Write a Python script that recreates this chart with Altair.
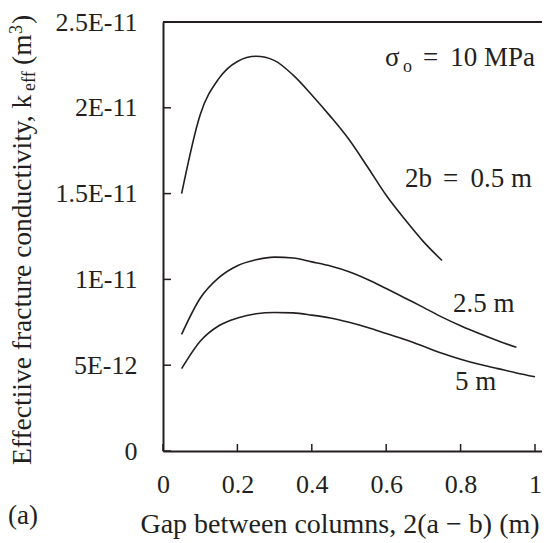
import altair as alt
import pandas as pd

# ---- data ----
gap_05 = [0.05, 0.10, 0.15, 0.20, 0.25, 0.30, 0.35, 0.40, 0.45, 0.50, 0.55, 0.60, 0.65, 0.70, 0.75]
k_05 = [1.50e-11, 1.96e-11, 2.17e-11, 2.27e-11, 2.30e-11, 2.275e-11, 2.19e-11, 2.075e-11,
        1.95e-11, 1.815e-11, 1.655e-11, 1.49e-11, 1.35e-11, 1.22e-11, 1.11e-11]

gap_25 = [0.05, 0.10, 0.15, 0.20, 0.25, 0.30, 0.35, 0.40, 0.45, 0.50, 0.55, 0.60, 0.65,
          0.70, 0.75, 0.80, 0.85, 0.90, 0.95]
k_25 = [6.8e-12, 8.9e-12, 1.01e-11, 1.08e-11, 1.115e-11, 1.13e-11, 1.125e-11, 1.102e-11,
        1.078e-11, 1.045e-11, 1.00e-11, 9.47e-12, 8.92e-12, 8.37e-12, 7.8e-12, 7.3e-12,
        6.85e-12, 6.43e-12, 6.04e-12]

gap_5 = [0.05, 0.10, 0.15, 0.20, 0.25, 0.30, 0.35, 0.40, 0.45, 0.50, 0.55, 0.60, 0.65,
         0.70, 0.75, 0.80, 0.85, 0.90, 0.95, 1.00]
k_5 = [4.8e-12, 6.4e-12, 7.3e-12, 7.75e-12, 8.0e-12, 8.07e-12, 8.05e-12, 7.92e-12,
       7.75e-12, 7.5e-12, 7.2e-12, 6.85e-12, 6.5e-12, 6.1e-12, 5.7e-12, 5.35e-12,
       5.05e-12, 4.8e-12, 4.55e-12, 4.33e-12]

series_names = ["0.5 m", "2.5 m", "5 m"]

x_ticks = [0, 0.2, 0.4, 0.6, 0.8, 1]
x_tick_labels = ["0", "0.2", "0.4", "0.6", "0.8", "1"]
y_ticks = [0, 5e-12, 1e-11, 1.5e-11, 2e-11, 2.5e-11]
y_tick_labels = ["0", "5E-12", "1E-11", "1.5E-11", "2E-11", "2.5E-11"]

# ---- build tables ----
rows = []
for name, xs, ys in zip(series_names, [gap_05, gap_25, gap_5], [k_05, k_25, k_5]):
    for xv, yv in zip(xs, ys):
        rows.append({"series": name, "gap": xv, "k": yv})
df = pd.DataFrame(rows)

W, H = 379, 429
FONT = "Liberation Serif"
INK = "#231f20"

xscale = alt.Scale(domain=[0, W / 372], nice=False, zero=False)
yscale = alt.Scale(domain=[0, 2.5e-11], nice=False)

ylabel_expr = " : ".join(
    [f"abs(datum.value - {v}) < 1e-13 ? '{l}'" for v, l in zip(y_ticks, y_tick_labels)]
) + " : ''"
xlabel_expr = " : ".join(
    [f"abs(datum.value - {v}) < 1e-6 ? '{l}'" for v, l in zip(x_ticks, x_tick_labels)]
) + " : ''"

lines = alt.Chart(df).mark_line(color=INK, strokeWidth=1.6, interpolate="monotone").encode(
    x=alt.X("gap:Q", scale=xscale,
            axis=alt.Axis(values=x_ticks, labelExpr=xlabel_expr, title=None, ticks=False,
                          tickSize=0, grid=False, domainColor=INK, domainWidth=2,
                          labelFont=FONT, labelFontSize=26, labelColor=INK,
                          labelPadding=20, labelFlush=False)),
    y=alt.Y("k:Q", scale=yscale,
            axis=alt.Axis(values=y_ticks, labelExpr=ylabel_expr, title=None, ticks=False,
                          tickSize=0, grid=False, domainColor=INK, domainWidth=2,
                          labelFont=FONT, labelFontSize=26, labelColor=INK,
                          labelPadding=26, labelFlush=False)),
    detail="series:N",
)

ytick_df = pd.DataFrame({"k": y_ticks})
xtick_df = pd.DataFrame({"gap": x_ticks})

yticks = alt.Chart(ytick_df).mark_rule(color=INK, strokeWidth=1.5).encode(
    y=alt.Y("k:Q", scale=yscale), x=alt.value(0), x2=alt.value(8))
xticks = alt.Chart(xtick_df).mark_rule(color=INK, strokeWidth=1.5).encode(
    x=alt.X("gap:Q", scale=xscale), y=alt.value(H), y2=alt.value(H - 7))

top_df = pd.DataFrame({"k": [y_ticks[-1]]})
top_line = alt.Chart(top_df).mark_rule(color=INK, strokeWidth=2).encode(
    y=alt.Y("k:Q", scale=yscale), x=alt.value(0), x2=alt.value(W))


def txt(text, x, y, size=27, align="left", angle=0, baseline="alphabetic"):
    return alt.Chart(pd.DataFrame({"t": [text]})).mark_text(
        font=FONT, fontSize=size, color=INK, align=align, baseline=baseline, angle=angle
    ).encode(text="t:N", x=alt.value(x), y=alt.value(y))


annotations = [
    # sigma_o = 10 MPa
    txt("σ", 222, 44),
    txt("o", 240, 50, size=18),
    txt("=", 260, 44),
    txt("10 MPa", 372, 44, align="right"),
    # series labels
    txt("2b", 242, 165),
    txt("=", 280, 165),
    txt("0.5 m", 369, 165, align="right"),
    txt("2.5 m", 290, 290),
    txt("5 m", 292, 368),
    # panel label
    txt("(a)", -155, 502),
    # x title
    txt("Gap between columns, 2(a − b) (m)", 177, 511, size=28, align="center"),
    # y title (rotated pieces)
    txt("Effectiive fracture conductivity, k", -132, 443, size=27.5, angle=270),
    txt("eff", -128, 69, size=18, angle=270),
    txt("(m", -132, 43, size=27.5, angle=270),
    txt("3", -141, 12, size=18, angle=270),
    txt(")", -132, 2, size=27.5, angle=270),
]

chart = alt.layer(top_line, lines, yticks, xticks, *annotations).properties(
    width=W, height=H,
    autosize=alt.AutoSizeParams(type="none"),
    padding={"left": 155, "top": 14, "right": 0, "bottom": 90},
).configure_view(stroke=None)

chart.save("out.html", embed_options={"renderer": "svg", "actions": False})
